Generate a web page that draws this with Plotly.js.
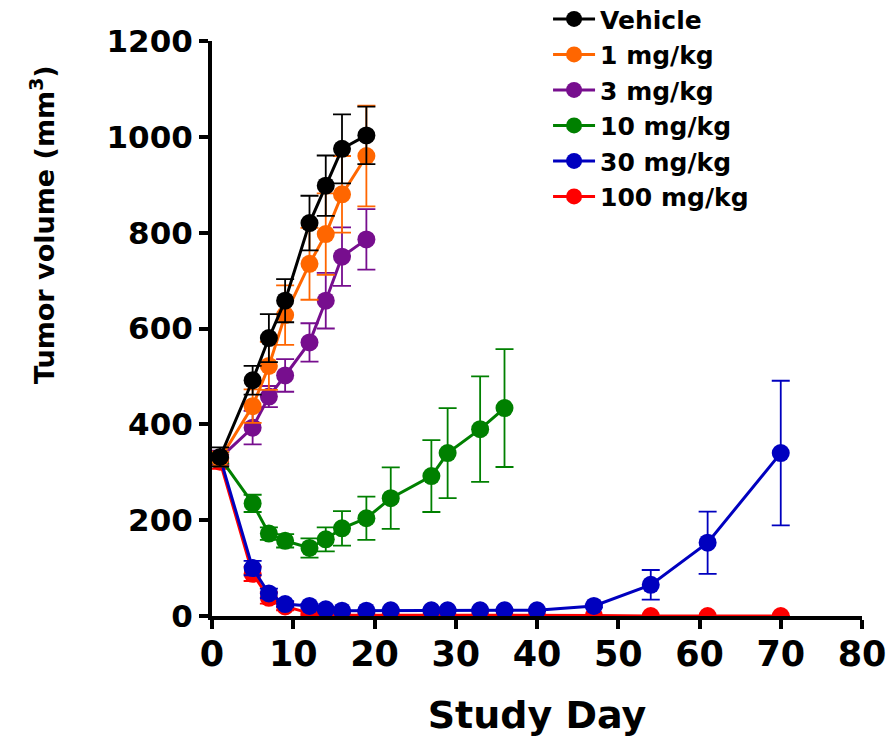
<!DOCTYPE html>
<html>
<head>
<meta charset="utf-8">
<script src="https://cdn.plot.ly/plotly-3.0.1.min.js"></script>
<style>
html,body{margin:0;padding:0;background:#fff;}
#chart{width:891px;height:738px;}
</style>
</head>
<body>
<div id="chart"></div>
<script>
// ---- data ----
const seriesNames = ["Vehicle", "1 mg/kg", "3 mg/kg", "10 mg/kg", "30 mg/kg", "100 mg/kg"];

const daysEarly = [1, 5, 7, 9, 12, 14, 16, 19];
const vehicle    = [332, 492, 580, 658, 820, 898, 975, 1003];
const vehicleErr = [20, 30, 50, 45, 57, 63, 72, 60];
const dose1      = [328, 438, 522, 628, 735, 797, 880, 960];
const dose1Err   = [15, 35, 50, 62, 75, 85, 80, 105];
const dose3      = [330, 393, 458, 502, 571, 658, 750, 786];
const dose3Err   = [15, 35, 22, 34, 40, 58, 61, 63];

const daysMid    = [1, 5, 7, 9, 12, 14, 16, 19, 22, 27, 29, 33, 36];
const dose10     = [330, 235, 172, 157, 142, 160, 183, 204, 246, 292, 340, 390, 434];
const dose10Err  = [12, 18, 13, 14, 20, 25, 36, 45, 64, 75, 94, 110, 123];

const daysLong   = [1, 5, 7, 9, 12, 14, 16, 19, 22, 27, 29, 33, 36, 40, 47, 54, 61, 70];
const dose30     = [330, 100, 47, 25, 21, 14, 11, 11, 12, 12, 12, 12, 12, 12, 21, 65, 153, 340];
const dose30Err  = [12, 15, 10, 6, 4, 3, 2, 2, 2, 2, 2, 2, 2, 2, 3, 31, 65, 151];
const dose100    = [322, 88, 38, 20, 6, 3, 2, 2, 2, 1, 1, 1, 1, 1, 1, 0, 0, 0];
const dose100Err = [15, 15, 12, 8, 4, 2, 1, 1, 1, 1, 1, 1, 1, 1, 1, 0, 0, 0];

const xTicks = [0, 10, 20, 30, 40, 50, 60, 70, 80];
const yTicks = [0, 200, 400, 600, 800, 1000, 1200];

// ---- styling ----
const colors = ["#000000", "#FF6600", "#770E8E", "#008000", "#0000BF", "#FF0000"];
const FONT = "DejaVu Sans, Liberation Sans, Arial, sans-serif";

function mk(name, x, y, err, color) {
  return {
    type: "scatter", mode: "lines+markers", name: name,
    x: x, y: y,
    line: {color: color, width: 3},
    marker: {color: color, size: 18, symbol: "circle"},
    error_y: {type: "data", array: err, visible: true, color: color, thickness: 1.8, width: 9},
    cliponaxis: true
  };
}

const traces = [
  mk(seriesNames[5], daysLong, dose100, dose100Err, colors[5]),
  mk(seriesNames[4], daysLong, dose30, dose30Err, colors[4]),
  mk(seriesNames[3], daysMid, dose10, dose10Err, colors[3]),
  mk(seriesNames[2], daysEarly, dose3, dose3Err, colors[2]),
  mk(seriesNames[1], daysEarly, dose1, dose1Err, colors[1]),
  mk(seriesNames[0], daysEarly, vehicle, vehicleErr, colors[0])
];

const layout = {
  width: 891, height: 738,
  margin: {l: 212, r: 29, t: 41, b: 122, pad: 0, autoexpand: false},
  paper_bgcolor: "#fff", plot_bgcolor: "#fff",
  showlegend: true,
  legend: {
    x: 0.517, y: 1.078, xanchor: "left", yanchor: "top",
    traceorder: "reversed",
    font: {family: FONT, size: 25, color: "#000", weight: "bold"},
    bgcolor: "rgba(0,0,0,0)", itemwidth: 42, tracegroupgap: 0
  },
  xaxis: {
    range: [0, 80], tickvals: xTicks, ticktext: xTicks.map(String),
    showgrid: false, zeroline: false, showline: true, linewidth: 4, linecolor: "#000",
    ticks: "outside", ticklen: 9, tickwidth: 4, tickcolor: "#000",
    tickfont: {family: FONT, size: 35, color: "#000", weight: "bold"},
    ticklabelstandoff: -5,
    automargin: false,
    title: {text: "Study Day", font: {family: FONT, size: 38, color: "#000", weight: "bold"}, standoff: 29}
  },
  yaxis: {
    range: [0, 1200], tickvals: yTicks, ticktext: yTicks.map(String),
    showgrid: false, zeroline: false, showline: true, linewidth: 4, linecolor: "#000",
    ticks: "outside", ticklen: 9, tickwidth: 4, tickcolor: "#000",
    automargin: false,
    tickfont: {family: FONT, size: 31, color: "#000", weight: "bold"}
  },
  annotations: [{
    text: "Tumor volume (mm<sup>3</sup>)",
    xref: "paper", yref: "paper",
    x: (43 - 212) / 650, y: (616 - 225) / 575,
    xanchor: "center", yanchor: "middle",
    textangle: -90, showarrow: false,
    font: {family: FONT, size: 27, color: "#000", weight: "bold"}
  }]
};

Plotly.newPlot("chart", traces, layout, {displayModeBar: false, staticPlot: true});
</script>
</body>
</html>
